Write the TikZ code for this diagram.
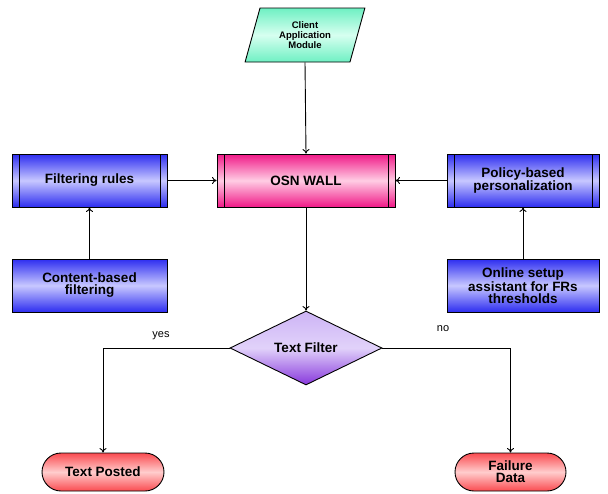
\documentclass[tikz,border=0pt]{standalone}
\usepackage{fontspec}
\setmainfont{Liberation Sans}
\usetikzlibrary{shapes.geometric,shapes.misc,arrows.meta}
\definecolor{blueEdge}{RGB}{45,45,240}
\definecolor{blueMid}{RGB}{200,200,255}
\definecolor{pinkEdge}{RGB}{240,25,135}
\definecolor{pinkMid}{RGB}{255,205,228}
\definecolor{redEdge}{RGB}{250,75,80}
\definecolor{redMid}{RGB}{255,205,205}
\definecolor{mintEdge}{RGB}{110,240,195}
\definecolor{mintMid}{RGB}{215,255,240}
\definecolor{purTop}{RGB}{205,180,245}
\definecolor{purMid}{RGB}{225,210,250}
\definecolor{purBot}{RGB}{135,55,220}
\tikzset{
  box/.style={draw=black, line width=0.9pt, rectangle, inner sep=2pt, align=center,
    font=\fontsize{13.5}{12}\selectfont\bfseries,
    top color=blueEdge, bottom color=blueEdge, middle color=blueMid},
  bars/.style={path picture={
    \draw[line width=0.9pt] ([xshift=7pt]path picture bounding box.north west) -- ([xshift=7pt]path picture bounding box.south west);
    \draw[line width=0.9pt] ([xshift=-7pt]path picture bounding box.north east) -- ([xshift=-7pt]path picture bounding box.south east);}},
  wall/.style={box, top color=pinkEdge, bottom color=pinkEdge, middle color=pinkMid},
  term/.style={draw=black, line width=0.9pt, rounded rectangle, inner sep=2pt, align=center,
    font=\fontsize{13.5}{12}\selectfont\bfseries,
    top color=redEdge, bottom color=redEdge, middle color=redMid},
  decision/.style={draw=black, line width=0.9pt, diamond, aspect=2.05, inner sep=0pt,
    minimum width=152pt, minimum height=74pt,
    font=\fontsize{13.5}{12}\selectfont\bfseries,
    top color=purTop, bottom color=purBot, middle color=purMid},
  io/.style={draw=black, line width=0.9pt, trapezium, trapezium left angle=72, trapezium right angle=108,
    trapezium stretches=true, inner sep=0pt, align=center,
    font=\fontsize{9.5}{9.7}\selectfont\bfseries,
    top color=mintEdge, bottom color=mintEdge, middle color=mintMid},
  conn/.style={draw=black, line width=0.9pt, -{To[length=4.5pt,width=7pt]}},
  lbl/.style={font=\fontsize{11}{11}\selectfont}
}
\begin{document}
\begin{tikzpicture}[x=1pt,y=-1pt]
\useasboundingbox[fill=white] (0,0) rectangle (608,493);
\node[io, minimum width=120pt, minimum height=54pt] (client) at (305,35) {Client\\Application\\Module};
\node[wall, bars, minimum width=178pt, minimum height=53pt] (osn) at (306,180.5) {OSN WALL};
\node[box, bars, minimum width=155pt, minimum height=53pt] (filt) at (89.5,180.5) {Filtering rules};
\node[box, minimum width=155pt, minimum height=53pt] (content) at (89.5,285.5) {Content-based\\filtering};
\node[box, bars, minimum width=152pt, minimum height=53pt] (policy) at (523,180.5) {Policy-based\\personalization};
\node[box, minimum width=152pt, minimum height=53pt] (online) at (523,285.5) {Online setup\\assistant for FRs\\thresholds};
\node[decision] (filter) at (306,348) {Text Filter};
\node[term, minimum width=126pt, minimum height=38pt] (posted) at (103,472) {Text Posted};
\node[term, minimum width=115pt, minimum height=38pt] (failure) at (510.5,472) {Failure\\Data};
\node[lbl] (yes) at (161,336) {yes};
\node[lbl] (no) at (443,329) {no};
\draw[conn] (client.south) -- (osn.north);
\draw[conn] (filt.east) -- (osn.west);
\draw[conn] (policy.west) -- (osn.east);
\draw[conn] (content.north) -- (filt.south);
\draw[conn] (online.north) -- (policy.south);
\draw[conn] (osn.south) -- (filter.north);
\draw[conn] (filter.west) -| (posted.north);
\draw[conn] (filter.east) -| (failure.north);
\end{tikzpicture}
\end{document}
